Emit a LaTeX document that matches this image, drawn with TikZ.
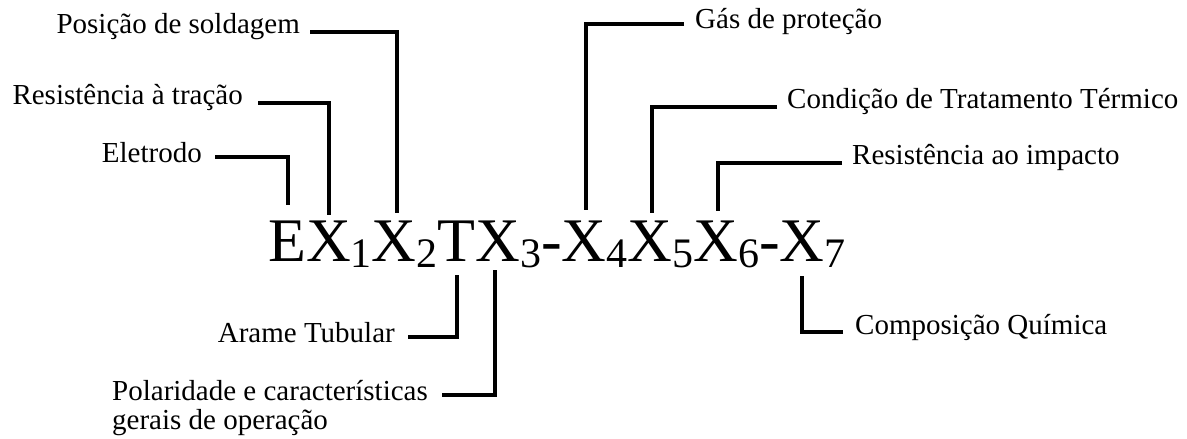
\documentclass[tikz,border=0pt]{standalone}
\usepackage{fontspec}
\setmainfont{Liberation Serif}
\newcommand{\sbd}[1]{\raisebox{-6pt}{\fontsize{42}{45}\selectfont #1}}
\begin{document}
\begin{tikzpicture}[x=1pt,y=-1pt,
  lab/.style={inner sep=0pt, font=\fontsize{29}{30}\selectfont},
  conn/.style={line width=3.5pt, line join=miter, line cap=butt}]
\useasboundingbox (0,0) rectangle (1187,439);
% main code
\node[anchor=base west, inner sep=0pt, font=\fontsize{62}{70}\selectfont] (code) at (268,261)
  {EX\sbd{1}X\sbd{2}TX\sbd{3}-X\sbd{4}X\sbd{5}X\sbd{6}-X\sbd{7}};
% endpoints
\coordinate (tE) at (288,205);
\coordinate (tX1) at (329,215);
\coordinate (tX2) at (397,213);
\coordinate (tX4) at (586,210);
\coordinate (tX5) at (652,213);
\coordinate (tX6) at (718,211);
\coordinate (bT) at (457,275);
\coordinate (bX3) at (495,270);
\coordinate (bX7) at (802,276);
% labels
\node[lab, anchor=base east] (ele) at (202,162) {Eletrodo};
\node[lab, anchor=base east] (rt) at (243,104) {Resistência à tração};
\node[lab, anchor=base east] (pos) at (300,33) {Posição de soldagem};
\node[lab, anchor=base west] (gas) at (695,28) {Gás de proteção};
\node[lab, anchor=base west] (cond) at (787,108) {Condição de Tratamento Térmico};
\node[lab, anchor=base west] (ri) at (852,164) {Resistência ao impacto};
\node[lab, anchor=base east] (arame) at (395,342) {Arame Tubular};
\node[lab, anchor=base west] (pol) at (112,400) {Polaridade e características};
\node[lab, anchor=base west] (pol2) at (112,429) {gerais de operação};
\node[lab, anchor=base west] (comp) at (855,334) {Composição Química};
% connectors
\draw[conn] ([xshift=13pt,yshift=5pt]ele.base east) -| (tE);
\draw[conn] ([xshift=15pt,yshift=1pt]rt.base east) -| (tX1);
\draw[conn] ([xshift=10pt,yshift=1pt]pos.base east) -| (tX2);
\draw[conn] ([xshift=-11pt,yshift=4pt]gas.base west) -| (tX4);
\draw[conn] ([xshift=-10pt,yshift=1pt]cond.base west) -| (tX5);
\draw[conn] ([xshift=-10pt,yshift=1pt]ri.base west) -| (tX6);
\draw[conn] ([xshift=13pt,yshift=5pt]arame.base east) -| (bT);
\draw[conn] ([xshift=14pt,yshift=5pt]pol.base east) -| (bX3);
\draw[conn] ([xshift=-12pt,yshift=2pt]comp.base west) -| (bX7);
\end{tikzpicture}
\end{document}
